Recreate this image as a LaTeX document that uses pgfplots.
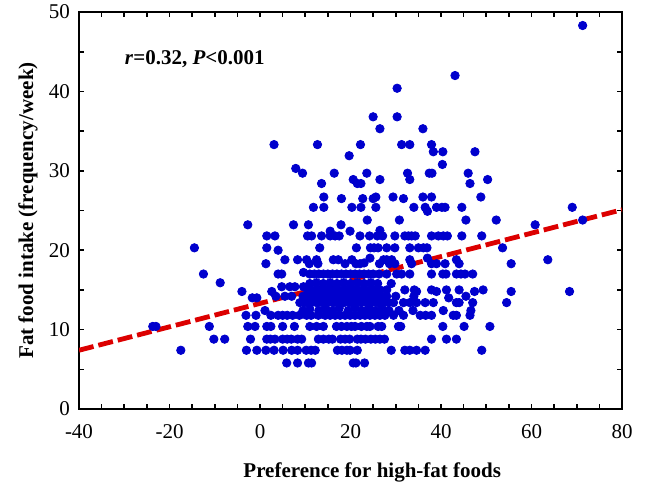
\documentclass[border=0pt]{standalone}
\usepackage{fontspec}
\setmainfont{Liberation Serif}
\usepackage{pgfplots}
\usepackage{pgfplotstable}
\pgfplotsset{compat=1.18}

\definecolor{dotblue}{RGB}{0,0,205}
\definecolor{fitred}{RGB}{220,0,0}

% preference score, fat food intake (frequency/week)
\pgfplotstableread{
x y
5.9 5.8
8.3 5.8
10.7 5.8
11.4 5.8
20.6 5.8
21.2 5.8
23.1 5.8
-17.5 7.4
-3.0 7.4
-0.7 7.4
1.3 7.4
3.1 7.4
5.1 7.4
7.0 7.4
8.3 7.4
10.2 7.4
11.3 7.4
12.2 7.4
17.1 7.4
18.1 7.4
19.2 7.4
19.9 7.4
21.5 7.4
29.0 7.4
32.0 7.4
33.1 7.4
34.6 7.4
36.5 7.4
49.0 7.4
-10.2 8.8
-7.8 8.8
-2.1 8.8
1.5 8.8
2.3 8.8
3.3 8.8
5.0 8.8
6.0 8.8
6.9 8.8
8.3 8.8
9.2 8.8
12.9 8.8
14.0 8.8
15.2 8.8
16.0 8.8
17.8 8.8
18.8 8.8
19.8 8.8
21.5 8.8
22.3 8.8
23.3 8.8
24.5 8.8
25.5 8.8
26.5 8.8
27.5 8.8
37.9 8.8
41.2 8.8
43.4 8.8
-23.7 10.4
-23.0 10.4
-11.2 10.4
-2.7 10.4
-1.1 10.4
1.5 10.4
2.4 10.4
5.0 10.4
7.6 10.4
11.0 10.4
12.5 10.4
14.0 10.4
16.9 10.4
18.0 10.4
19.2 10.4
20.2 10.4
21.0 10.4
22.4 10.4
23.6 10.4
24.3 10.4
26.1 10.4
26.9 10.4
30.6 10.4
31.1 10.4
40.4 10.4
45.1 10.4
50.8 10.4
-3.1 11.8
-0.9 11.8
2.4 11.8
4.0 11.8
5.0 11.8
6.0 11.8
7.2 11.8
8.7 11.8
10.3 11.8
11.3 11.8
12.9 11.8
14.4 11.8
15.5 11.8
16.6 11.8
17.7 11.8
18.8 11.8
19.9 11.8
21.0 11.8
22.1 11.8
23.2 11.8
24.3 11.8
25.4 11.8
26.5 11.8
27.6 11.8
29.5 11.8
31.7 11.8
35.4 11.8
36.6 11.8
37.9 11.8
42.7 11.8
43.4 11.8
46.4 11.8
1.1 12.4
9.5 12.4
11.0 12.6
13.0 12.4
14.5 12.6
16.0 12.4
17.5 12.7
19.5 12.4
21.0 12.7
22.5 12.4
24.0 12.7
25.5 12.4
27.0 12.7
28.5 12.4
30.7 12.4
33.8 12.4
40.5 12.4
46.6 12.4
-1.7 14.0
-0.7 14.0
8.8 13.4
10.0 13.4
11.2 13.4
12.5 13.4
13.7 13.4
15.0 13.4
16.2 13.4
17.4 13.4
18.6 13.4
19.9 13.4
21.0 13.4
22.3 13.4
23.5 13.4
24.7 13.4
26.0 13.4
27.2 13.4
28.4 13.4
29.5 13.4
31.7 13.4
33.1 13.4
34.6 13.4
36.5 13.4
38.3 13.4
43.4 13.4
44.0 13.4
47.0 13.4
54.5 13.4
3.5 14.2
5.5 14.2
7.0 14.2
9.5 14.2
11.0 14.2
12.0 14.2
13.0 14.2
14.3 14.2
15.5 14.2
16.8 14.2
18.0 14.2
19.3 14.2
20.5 14.2
21.8 14.2
23.0 14.2
24.3 14.2
25.5 14.2
26.8 14.2
28.0 14.2
30.0 14.2
34.0 14.2
41.7 14.0
45.5 14.2
-4.0 14.8
2.6 14.8
4.8 15.4
6.6 15.4
7.7 15.4
9.6 15.4
10.5 15.0
11.5 15.0
12.5 15.0
13.5 15.0
14.5 15.0
15.5 15.0
16.5 15.0
17.5 15.0
18.5 15.0
19.5 15.0
20.5 15.0
21.5 15.0
22.5 15.0
23.5 15.0
24.5 15.0
25.5 15.0
26.5 15.0
28.0 15.0
32.0 15.0
34.1 15.0
34.6 14.8
37.9 15.0
39.0 14.8
41.2 15.0
44.0 15.0
47.4 14.8
49.3 15.0
55.5 14.8
68.4 14.8
-8.8 15.9
11.0 15.8
12.5 15.9
14.0 15.8
15.5 15.9
17.0 15.8
18.5 15.9
20.0 15.8
21.5 15.9
23.0 15.8
24.5 15.9
26.0 15.8
29.0 15.8
-12.5 17.0
4.0 17.0
4.8 17.0
9.6 17.2
11.0 17.0
12.0 17.0
13.0 17.0
14.0 17.0
15.0 17.0
16.0 17.0
17.0 17.0
18.0 17.0
19.0 17.0
20.0 17.0
21.0 17.0
22.0 17.0
23.0 17.0
24.0 17.0
25.0 17.0
26.3 17.0
28.0 17.0
30.2 17.0
31.3 17.0
33.1 17.0
37.9 17.0
40.4 17.0
41.1 17.0
43.4 17.0
44.4 17.0
45.3 17.0
47.0 17.0
1.3 18.3
5.5 18.8
8.3 18.8
10.3 18.8
10.9 18.3
12.5 18.8
12.8 18.3
16.2 18.8
17.3 18.8
18.8 18.3
20.3 18.8
21.2 18.3
22.1 18.3
23.0 18.4
24.3 19.0
26.4 18.3
27.3 18.8
28.0 18.8
28.6 18.3
29.1 18.8
29.8 18.3
33.1 18.8
33.5 18.3
37.0 19.0
37.9 18.3
39.0 18.3
40.9 18.3
43.4 18.8
44.0 18.3
55.5 18.3
63.6 18.8
-14.5 20.3
1.5 20.3
4.0 20.0
13.2 20.3
21.3 20.3
24.4 20.3
25.2 20.3
26.1 20.3
28.0 20.3
29.8 20.3
33.1 20.3
35.0 20.3
36.1 20.3
36.9 20.3
53.6 20.3
1.5 21.8
3.3 21.8
10.5 21.8
11.4 21.8
13.6 21.8
15.5 21.8
16.6 21.8
17.5 21.8
22.1 21.8
24.2 21.8
25.9 21.8
27.1 21.8
29.8 21.8
32.0 21.8
32.8 21.8
33.5 21.8
34.3 21.8
37.9 21.8
39.4 21.8
40.5 21.8
41.4 21.8
44.6 21.8
49.0 21.8
15.5 22.4
19.9 22.4
26.5 22.5
-2.7 23.2
7.4 23.2
10.7 23.2
17.9 23.2
23.7 23.8
30.8 23.8
45.5 23.8
52.2 23.8
60.8 23.2
71.3 23.8
11.8 25.4
14.1 25.4
20.3 25.4
22.3 25.4
25.6 25.4
34.0 25.4
36.5 25.4
37.0 24.9
39.0 25.4
40.2 25.4
40.9 25.4
44.6 25.4
69.0 25.4
14.1 26.7
18.0 26.5
22.7 26.5
25.0 26.5
25.6 26.7
29.4 26.7
31.7 26.5
36.0 26.7
37.9 26.7
48.8 26.7
13.6 28.4
20.6 28.9
21.5 28.4
22.3 28.4
26.5 28.9
33.1 28.9
46.4 28.4
50.3 28.9
9.4 29.7
16.4 29.7
23.6 29.7
32.6 29.7
37.4 29.7
38.0 29.7
46.0 29.7
7.9 30.3
40.3 30.8
19.7 31.9
38.3 32.4
40.4 32.4
47.5 32.4
3.1 33.3
12.7 33.3
22.2 33.3
31.3 33.3
33.1 33.3
37.9 33.3
26.5 35.3
36.0 35.3
25.0 36.8
30.3 36.8
30.3 40.4
43.1 42.0
71.3 48.3
}\fatdata

\begin{document}
\begin{tikzpicture}
\path[use as bounding box] (0,0) rectangle (323pt,242pt);
\begin{axis}[
  at={(39.5pt,37.5pt)}, anchor=south west,
  width=271.5pt, height=198.5pt, scale only axis,
  xmin=-40, xmax=80, ymin=0, ymax=50,
  xtick={-40,-20,0,20,40,60,80},
  xticklabels={-40,-20,0,20,40,60,80},
  ytick={0,10,20,30,40,50},
  yticklabels={0,10,20,30,40,50},
  minor x tick num=3, minor y tick num=1,
  tick align=inside, xtick pos=both, ytick pos=both,
  xticklabel pos=bottom, yticklabel pos=left,
  major tick length=2.5pt, minor tick length=2.5pt,
  every tick/.style={black, line width=0.8pt},
  axis line style={black, line width=1pt},
  tick label style={font=\fontsize{10.5}{12}\selectfont},
  xticklabel style={yshift=-4pt},
  yticklabel style={xshift=-1pt},
  xlabel={\textbf{Preference for high-fat foods}},
  ylabel={\textbf{Fat food intake (frequency/week)}},
  label style={font=\fontsize{10.5}{12}\selectfont},
  xlabel style={at={(axis description cs:0.54,0)}, anchor=center, yshift=-31.5pt},
  ylabel style={at={(axis description cs:-0.094,0.5)}, anchor=center},
  clip=true,
]
\addplot[only marks, mark=*, mark size=2.1pt,
  mark options={draw=dotblue, fill=dotblue}] table[x=x, y=y] {\fatdata};
\addplot[fitred, line width=2.4pt, dash pattern=on 7.5pt off 2.5pt]
  coordinates {(-40,7.4) (80,25.1)};
\node[anchor=west, font=\fontsize{10.5}{12}\selectfont\bfseries]
  at (axis cs:-31.4,44.1) {\textit{r}=0.32, \textit{P}<0.001};
\end{axis}
\end{tikzpicture}
\end{document}
